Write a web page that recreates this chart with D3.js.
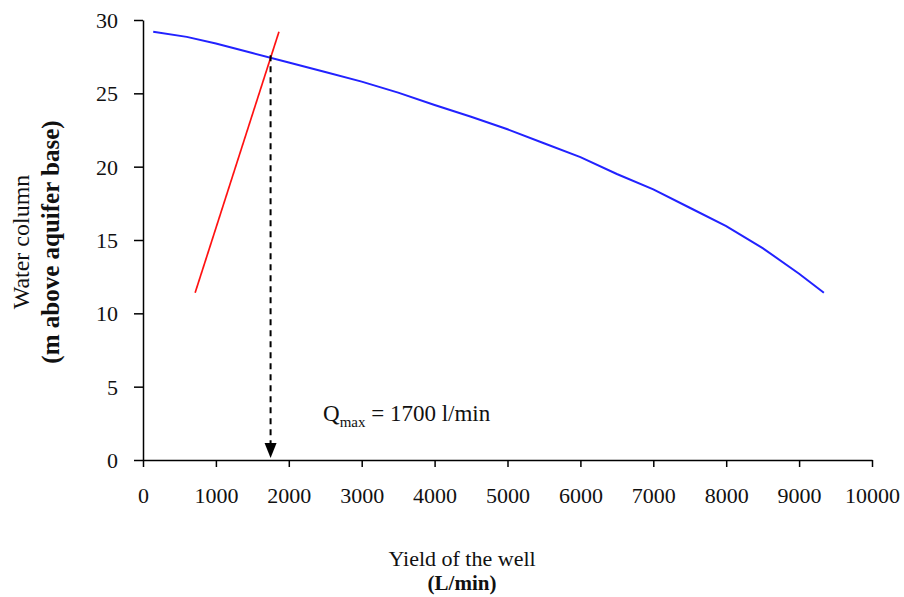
<!DOCTYPE html>
<html>
<head>
<meta charset="utf-8">
<script src="https://cdn.jsdelivr.net/npm/d3@7"></script>
<style>
  body { margin: 0; background: #fff; }
  text { font-family: "Liberation Serif", "Times New Roman", serif; }
</style>
</head>
<body>
<div class="chart"></div>
<script>
// well yield curve (blue) and pump line (red)
const wellQ = [140, 600, 1000, 1500, 2000, 2500, 3000, 3500, 4000, 4500, 5000, 5500, 6000, 6500, 7000, 7500, 8000, 8500, 9000, 9340]
const wellH = [29.2, 28.85, 28.4, 27.75, 27.1, 26.45, 25.8, 25.05, 24.2, 23.4, 22.55, 21.6, 20.65, 19.5, 18.45, 17.2, 15.95, 14.45, 12.7, 11.4]
const pumpQ = [715, 1865]
const pumpH = [11.4, 29.2]
const qmax = 1750
const qmaxTop = 27.6
const xTicks = [0, 1000, 2000, 3000, 4000, 5000, 6000, 7000, 8000, 9000, 10000]
const yTicks = [0, 5, 10, 15, 20, 25, 30]

const W = 904, H = 597
const margin = ({top: 20, right: 32, bottom: 137, left: 143})

const svg = d3.select('.chart').append('svg')
    .attr('width', W)
    .attr('height', H)

const x = d3.scaleLinear().domain([0, 10000]).range([margin.left, W - margin.right])
const y = d3.scaleLinear().domain([0, 30]).range([H - margin.bottom, margin.top])

// axes
const xAxis = svg.append('g')
    .attr('transform', 'translate(0,' + y(0) + ')')
    .call(d3.axisBottom(x).tickValues(xTicks).tickSize(7).tickPadding(20).tickSizeOuter(0).tickFormat(d3.format('d')))
const yAxis = svg.append('g')
    .attr('transform', 'translate(' + x(0) + ',0)')
    .call(d3.axisLeft(y).tickValues(yTicks).tickSize(9).tickPadding(16).tickSizeOuter(0))

svg.selectAll('.domain, .tick line').attr('stroke', '#000').attr('stroke-width', 1.5)
svg.selectAll('.tick text')
    .attr('font-family', '"Liberation Serif", serif')
    .attr('font-size', 22)
    .attr('fill', '#111')
yAxis.selectAll('.tick text').attr('dy', '0.34em')

const line = d3.line().x(d => x(d[0])).y(d => y(d[1]))

// blue curve
svg.append('path')
    .datum(wellQ.map((q, i) => [q, wellH[i]]))
    .attr('d', line)
    .attr('fill', 'none')
    .attr('stroke', '#2222ff')
    .attr('stroke-width', 2)

// red line
svg.append('path')
    .datum(pumpQ.map((q, i) => [q, pumpH[i]]))
    .attr('d', line)
    .attr('fill', 'none')
    .attr('stroke', '#ff1111')
    .attr('stroke-width', 1.7)

// dashed arrow down to Qmax
svg.append('line')
    .attr('x1', x(qmax)).attr('x2', x(qmax))
    .attr('y1', y(qmaxTop)).attr('y2', y(0) - 14)
    .attr('stroke', '#000')
    .attr('stroke-width', 2)
    .attr('stroke-dasharray', '6,5')

const tipX = x(qmax), tipY = y(0) - 2
svg.append('path')
    .attr('d', `M${tipX - 6},${tipY - 15}L${tipX + 6},${tipY - 15}L${tipX},${tipY}Z`)
    .attr('fill', '#000')

// annotation
const ann = svg.append('text')
    .attr('x', 323)
    .attr('y', 421)
    .attr('font-size', 23)
    .attr('fill', '#111')
ann.append('tspan').text('Q')
ann.append('tspan').attr('font-size', 15).attr('dy', 6).text('max')
ann.append('tspan').attr('dy', -6).text(' = 1700 l/min')

// axis titles
svg.append('text')
    .attr('x', 462).attr('y', 566)
    .attr('text-anchor', 'middle')
    .attr('font-size', 22)
    .attr('fill', '#111')
    .text('Yield of the well')
svg.append('text')
    .attr('x', 462).attr('y', 590)
    .attr('text-anchor', 'middle')
    .attr('font-size', 21)
    .attr('font-weight', 'bold')
    .attr('fill', '#111')
    .text('(L/min)')

svg.append('text')
    .attr('transform', 'translate(29,242) rotate(-90)')
    .attr('text-anchor', 'middle')
    .attr('font-size', 24)
    .attr('fill', '#111')
    .text('Water column')
svg.append('text')
    .attr('transform', 'translate(59,242) rotate(-90)')
    .attr('text-anchor', 'middle')
    .attr('font-size', 25)
    .attr('font-weight', 'bold')
    .attr('fill', '#111')
    .text('(m above aquifer base)')
</script>
</body>
</html>
